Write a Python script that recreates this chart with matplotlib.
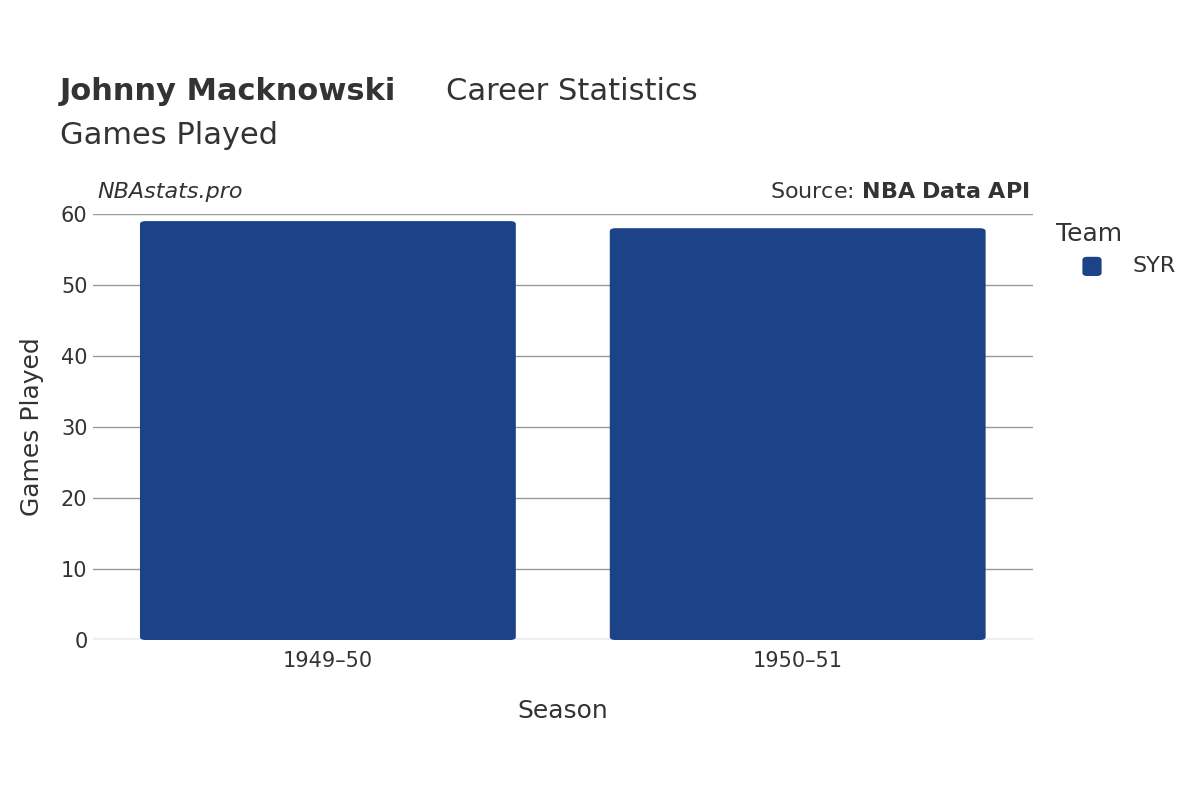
import matplotlib
matplotlib.use("Agg")
import matplotlib.pyplot as plt
from matplotlib.patches import FancyBboxPatch

seasons = ["1949–50", "1950–51"]
games = [59, 58]
team = "SYR"
color = "#1c4288"

fig = plt.figure(figsize=(12, 8), dpi=100)
ax = fig.add_axes([0.0775, 0.2, 0.783, 0.5325])
ax.set_xlim(-0.5, 1.5)
ax.set_ylim(0, 60)
bw = 0.8
for i, v in enumerate(games):
    p = FancyBboxPatch((i - bw/2, 0), bw, v, boxstyle="round,pad=0,rounding_size=0.012",
                       mutation_aspect=60/2*940/426*0.55, fc=color, ec="none", zorder=3, clip_on=False)
    ax.add_patch(p)
ax.set_xticks(range(len(seasons)))
ax.set_xticklabels(seasons)
ax.set_yticks(range(0, 61, 10))
ax.grid(axis="y", color="#999999", lw=1, zorder=0)
for s in ax.spines.values():
    s.set_visible(False)
ax.axhline(0, color="#eeeeee", lw=3, zorder=2)
ax.tick_params(length=0, labelsize=15, colors="#333333", pad=8)
ax.tick_params(axis="y", pad=4)
ax.set_xlabel("Season", fontsize=18, color="#333333", labelpad=20)
ax.set_ylabel("Games Played", fontsize=18, color="#333333", labelpad=12)

fig.text(0.05, 0.875, "Johnny Macknowski", fontsize=22, fontweight="bold", color="#333333", va="baseline")
fig.text(0.372, 0.875, "Career Statistics", fontsize=22, color="#333333", va="baseline")
fig.text(0.05, 0.82, "Games Played", fontsize=22, color="#333333", va="baseline")
fig.text(0.081, 0.752, "NBAstats.pro", fontsize=16, style="italic", color="#333333", va="baseline")
fig.text(0.858, 0.752, "Source: $\\bf{NBA\\ Data\\ API}$", fontsize=16, color="#333333", va="baseline", ha="right")
fig.text(0.88, 0.707, "Team", fontsize=18, color="#333333", va="center")
fig.patches.append(FancyBboxPatch((0.902, 0.655), 0.016, 0.024, boxstyle="round,pad=0,rounding_size=0.004",
                                  transform=fig.transFigure, fc=color, ec="none"))
fig.text(0.944, 0.667, team, fontsize=16, color="#333333", va="center")
fig.savefig("out.png")
